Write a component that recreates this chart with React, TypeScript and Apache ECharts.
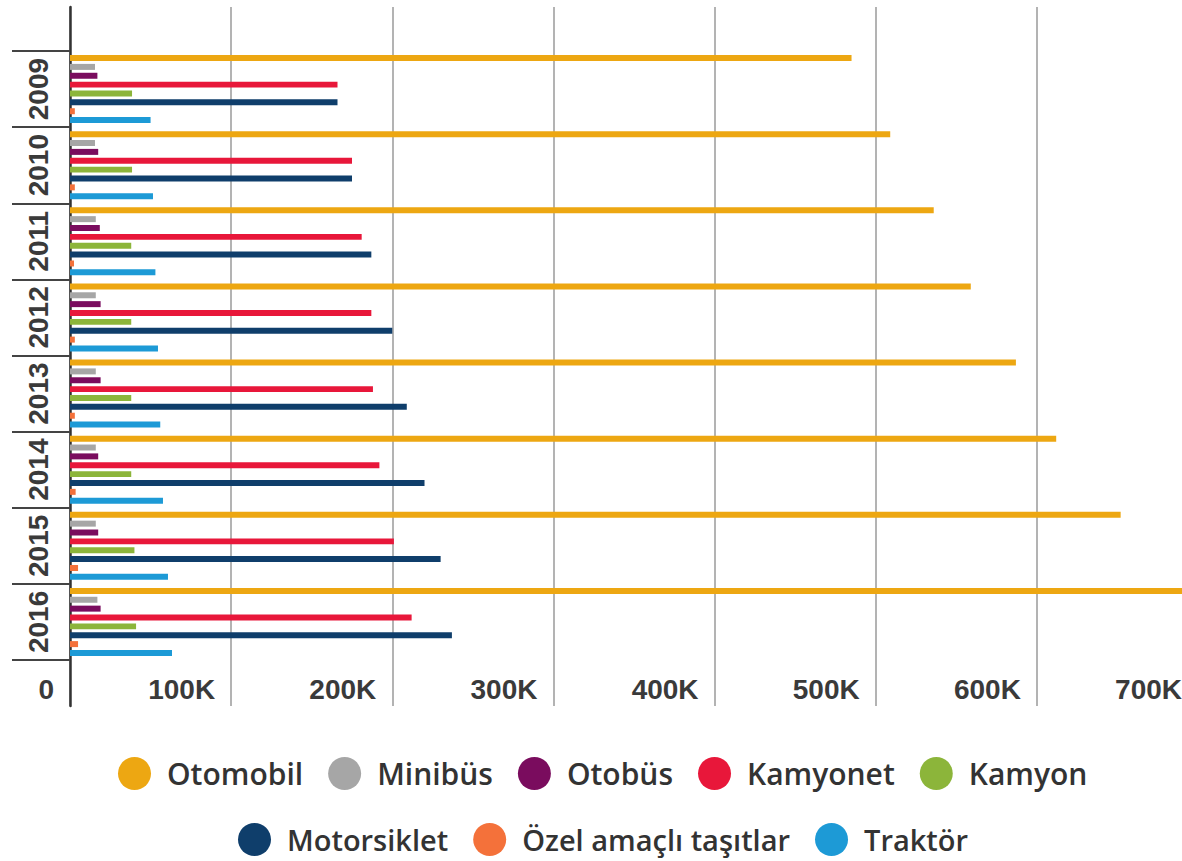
import { useEffect, useRef } from 'react';
import * as echarts from 'echarts';

const years = ['2009', '2010', '2011', '2012', '2013', '2014', '2015', '2016'];
const otomobil = [485000, 509000, 536000, 559000, 587000, 612000, 652000, 700000];
const minibus = [15500, 15500, 16000, 16000, 16000, 16000, 16000, 17000];
const otobus = [17000, 17500, 18500, 19000, 19000, 17500, 17500, 19000];
const kamyonet = [166000, 175000, 181000, 187000, 188000, 192000, 201000, 212000];
const kamyon = [38500, 38500, 38000, 38000, 38000, 38000, 40000, 41000];
const motorsiklet = [166000, 175000, 187000, 200000, 209000, 220000, 230000, 237000];
const ozel = [3000, 3000, 2500, 3000, 3000, 3500, 5000, 5000];
const traktor = [50000, 51500, 53000, 54600, 56000, 57700, 60800, 63300];
const xTicks = [0, 100000, 200000, 300000, 400000, 500000, 600000, 700000];

const seriesDefs = [
  { name: 'Otomobil', data: otomobil, color: '#EDA712' },
  { name: 'Minibüs', data: minibus, color: '#A6A6A6' },
  { name: 'Otobüs', data: otobus, color: '#7A0C5E' },
  { name: 'Kamyonet', data: kamyonet, color: '#E8173A' },
  { name: 'Kamyon', data: kamyon, color: '#8CB53A' },
  { name: 'Motorsiklet', data: motorsiklet, color: '#0F3E6B' },
  { name: 'Özel amaçlı taşıtlar', data: ozel, color: '#F4713A' },
  { name: 'Traktör', data: traktor, color: '#1D9AD6' },
];

const ellipse = 'path://M50,0A50,50,0,1,1,50,100A50,50,0,1,1,50,0Z';

export default function App() {
  const ref = useRef<HTMLDivElement>(null);
  useEffect(() => {
    const chart = echarts.init(ref.current!, null, { renderer: 'svg' });
    const legendText = {
      fontFamily: 'Open Sans',
      fontWeight: 600,
      fontSize: 30,
      lineHeight: 32,
      color: '#333',
      padding: [0, 0, 0, 9],
    };
    chart.setOption({
      animation: false,
      backgroundColor: '#fff',
      grid: [
        { left: 70, top: 51, right: 2, height: 609 },
        { left: 70, top: 7, right: 2, height: 699 },
      ],
      xAxis: [
        { gridIndex: 0, type: 'value', min: 0, max: 700000, show: false },
        {
          gridIndex: 1,
          type: 'value',
          min: xTicks[0],
          max: xTicks[xTicks.length - 1],
          interval: 100000,
          axisLine: { show: false },
          axisTick: { show: false },
          splitLine: { show: true, lineStyle: { color: '#b3b3b3', width: 2 } },
          axisLabel: {
            formatter: (v: number) => (v === 0 ? '0' : v / 1000 + 'K'),
            align: 'right',
            verticalAlign: 'middle',
            margin: -17,
            padding: [0, 16, 0, 0],
            fontFamily: 'Liberation Sans',
            fontWeight: 'bold',
            fontSize: 28,
            color: '#3a3a3a',
          },
        },
      ],
      yAxis: [
        {
          gridIndex: 0,
          type: 'category',
          data: years,
          inverse: true,
          axisLine: { show: false },
          axisTick: { show: true, length: 58, lineStyle: { color: '#444', width: 2 } },
          axisLabel: {
            interval: 0,
            rotate: 90,
            margin: 18,
            fontSize: 28,
            fontWeight: 'bold',
            fontFamily: 'Liberation Sans',
            color: '#3a3a3a',
          },
          splitLine: { show: false },
        },
        {
          gridIndex: 1,
          type: 'value',
          min: 0,
          max: 1,
          axisLine: { show: true, lineStyle: { color: '#333', width: 2.5 } },
          axisTick: { show: false },
          axisLabel: { show: false },
          splitLine: { show: false },
        },
      ],
      legend: [
        {
          data: seriesDefs.slice(0, 5).map((s) => s.name),
          left: 113,
          top: 752,
          icon: ellipse,
          itemWidth: 37,
          itemHeight: 33,
          itemGap: 25,
          textStyle: legendText,
        },
        {
          data: seriesDefs.slice(5).map((s) => s.name),
          left: 233,
          top: 818,
          icon: ellipse,
          itemWidth: 37,
          itemHeight: 33,
          itemGap: 25,
          textStyle: { ...legendText, fontSize: 29 },
        },
      ],
      series: seriesDefs.map((s) => ({
        name: s.name,
        type: 'bar',
        xAxisIndex: 0,
        yAxisIndex: 0,
        data: s.data,
        barGap: '48%',
        barCategoryGap: '10.6%',
        itemStyle: { color: s.color },
      })),
    });
    return () => chart.dispose();
  }, []);
  return (
    <div
      ref={ref}
      style={{ position: 'fixed', left: 0, top: 0, width: 1200, height: 861, background: '#fff' }}
    />
  );
}
